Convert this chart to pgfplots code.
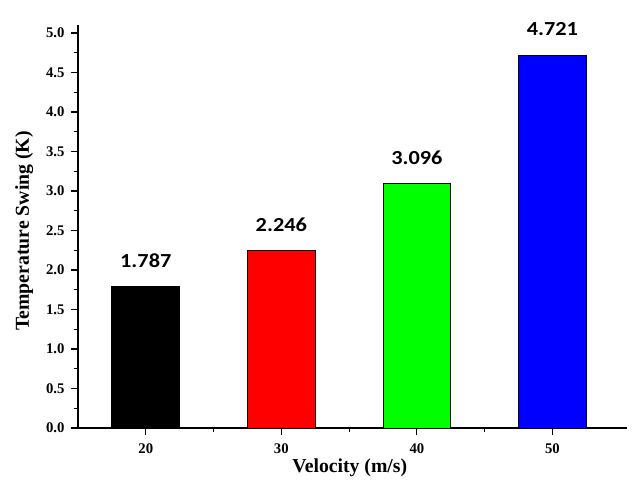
\documentclass[border=0pt]{standalone}
\usepackage{fontspec}
\setmainfont{Liberation Serif}
\newfontfamily\carlito{Carlito}[FakeStretch=1.12]
\usepackage{pgfplots}
\pgfplotsset{compat=1.18}
\definecolor{bred}{RGB}{255,0,0}
\definecolor{bgreen}{RGB}{0,255,0}
\definecolor{bblue}{RGB}{0,0,255}
\begin{document}
\begin{tikzpicture}
\path[use as bounding box] (-78bp,-66bp) rectangle (562bp,428bp);
\begin{axis}[
  at={(0,0)}, anchor=south west,
  scale only axis, width=549bp, height=403bp,
  xmin=15, xmax=55.5, ymin=0, ymax=5.1,
  axis x line*=bottom, axis y line*=left,
  xtick={20,30,40,50}, minor xtick={25,35,45},
  ytick={0,0.5,...,5}, minor ytick={0.25,0.75,...,4.75},
  tick align=outside, major tick length=7bp, minor tick length=4bp,
  every tick/.style={black, line width=1.2bp},
  axis line style={line width=1.5bp, black},
  /pgf/number format/assume math mode=true,
  yticklabel style={/pgf/number format/fixed, /pgf/number format/fixed zerofill, /pgf/number format/precision=1, xshift=-3bp},
  xticklabel style={/pgf/number format/fixed, /pgf/number format/precision=0, yshift=-5bp},
  ticklabel style={font=\fontsize{14.8}{16}\selectfont\bfseries},
  xlabel={Velocity (m/s)}, ylabel={Temperature Swing (K)},
  label style={font=\fontsize{19.8}{22}\selectfont\bfseries},
  xlabel style={at={(axis description cs:0.495,0)}, anchor=base, yshift=-44bp},
  ylabel style={at={(axis description cs:-0.098,0.489)}, anchor=center},
  ybar, bar shift=0pt, bar width=5,
  clip=false,
  nodes near coords,
  nodes near coords style={font=\carlito\bfseries\fontsize{20}{22}\selectfont,
    /pgf/number format/fixed, /pgf/number format/fixed zerofill, /pgf/number format/precision=3,
    anchor=center, yshift=26bp},
]
\addplot[fill=black, draw=black, line width=0.8bp] coordinates {(20,1.787)};
\addplot[fill=bred, draw=black, line width=0.8bp] coordinates {(30,2.246)};
\addplot[fill=bgreen, draw=black, line width=0.8bp] coordinates {(40,3.096)};
\addplot[fill=bblue, draw=black, line width=0.8bp] coordinates {(50,4.721)};
\end{axis}
\end{tikzpicture}
\end{document}
